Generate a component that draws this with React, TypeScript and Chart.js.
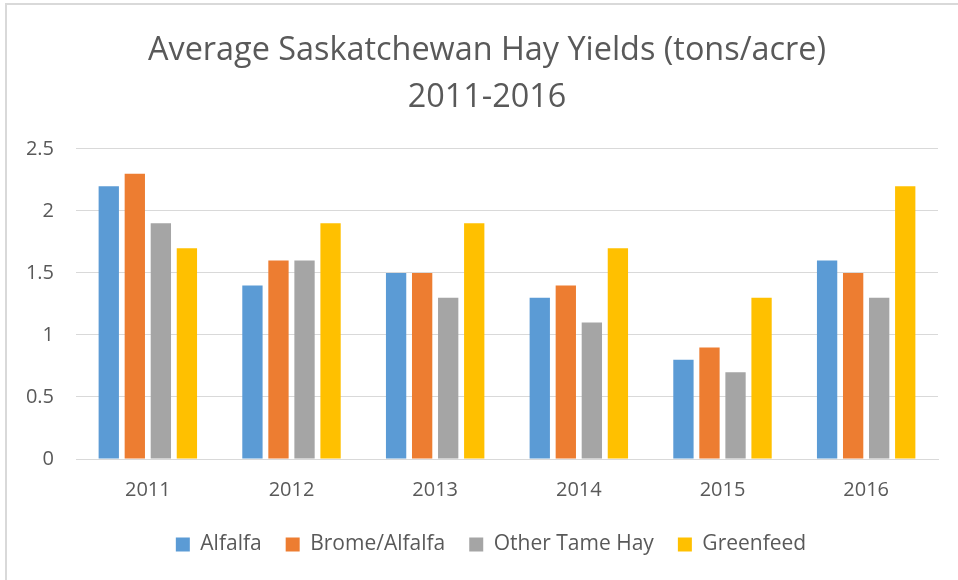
import React, { useEffect, useRef } from "react";
import { Chart, registerables } from "chart.js";

Chart.register(...registerables);

const categories = ["2011", "2012", "2013", "2014", "2015", "2016"];
const alfalfa = [2.2, 1.4, 1.5, 1.3, 0.8, 1.6];
const bromeAlfalfa = [2.3, 1.6, 1.5, 1.4, 0.9, 1.5];
const otherTameHay = [1.9, 1.6, 1.3, 1.1, 0.7, 1.3];
const greenfeed = [1.7, 1.9, 1.9, 1.7, 1.3, 2.2];
const seriesNames = ["Alfalfa", "Brome/Alfalfa", "Other Tame Hay", "Greenfeed"];
const seriesColors = ["#5B9BD5", "#ED7D31", "#A5A5A5", "#FFC000"];
const titleLines = ["Average Saskatchewan Hay Yields (tons/acre)", "2011-2016"];
const yMin = 0;
const yMax = 2.5;
const yStep = 0.5;

const FONT = "'Open Sans', sans-serif";
const TEXT = "#595959";

const shiftBlocks = {
  id: "shiftBlocks",
  afterLayout(chart: any) {
    if (chart.titleBlock) chart.titleBlock.left = 36;
    if (chart.legend) chart.legend.left = 44;
  },
};

export default function App() {
  const ref = useRef<HTMLCanvasElement | null>(null);

  useEffect(() => {
    if (!ref.current) return;
    const values = [alfalfa, bromeAlfalfa, otherTameHay, greenfeed];
    const chart = new Chart(ref.current, {
      type: "bar",
      data: {
        labels: categories,
        datasets: seriesNames.map((name, i) => ({
          label: name,
          data: values[i],
          backgroundColor: seriesColors[i],
          borderWidth: 0,
          categoryPercentage: 0.725,
          barPercentage: 0.78,
        })),
      },
      plugins: [shiftBlocks],
      options: {
        animation: false,
        responsive: false,
        devicePixelRatio: 1,
        layout: { padding: { left: 0, right: 20, top: 0, bottom: 15 } },
        plugins: {
          title: {
            display: true,
            text: titleLines,
            color: TEXT,
            font: { family: FONT, size: 32.4, weight: "normal", lineHeight: 1.45 },
            padding: { top: 27, bottom: 28 },
          },
          legend: {
            display: true,
            position: "bottom",
            labels: {
              color: TEXT,
              font: { family: FONT, size: 21 },
              boxWidth: 14,
              boxHeight: 14,
              padding: 24,
            },
          },
          tooltip: { enabled: false },
        },
        scales: {
          x: {
            grid: { display: false, drawTicks: false },
            border: { display: true, color: "#d9d9d9", width: 1 },
            ticks: { color: TEXT, font: { family: FONT, size: 20 }, padding: 19 },
            afterFit: (scale: any) => {
              scale.height = scale.height - 11;
            },
          },
          y: {
            min: yMin,
            max: yMax,
            grid: { color: "#d9d9d9", lineWidth: 1, drawTicks: false },
            border: { display: false },
            ticks: {
              stepSize: yStep,
              color: TEXT,
              font: { family: FONT, size: 20 },
              padding: 22,
              callback: (v: any) => String(v),
            },
            afterFit: (scale: any) => {
              scale.width = 76;
            },
          },
        },
      },
    });
    return () => chart.destroy();
  }, []);

  return (
    <div style={{ position: "fixed", left: 0, top: 0, width: 958, height: 580, background: "#fff", overflow: "hidden" }}>
      <div
        style={{
          position: "absolute",
          left: 5,
          top: 3,
          width: 1200,
          height: 1200,
          borderLeft: "2px solid #d9d9d9",
          borderTop: "2px solid #d9d9d9",
        }}
      />
      <canvas ref={ref} width={958} height={580} style={{ position: "absolute", left: 0, top: 0 }} />
    </div>
  );
}
